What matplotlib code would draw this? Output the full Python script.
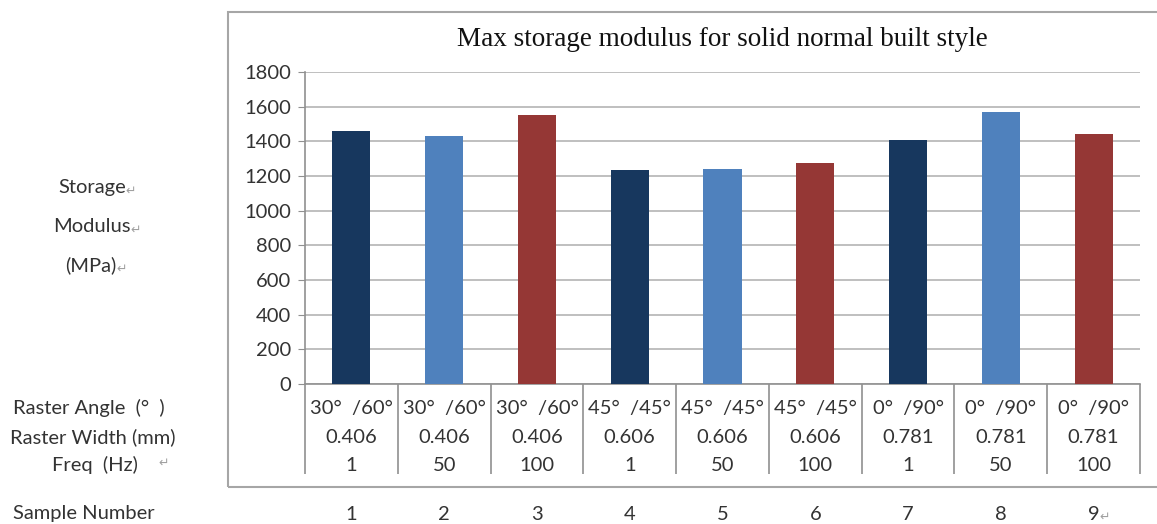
import matplotlib.pyplot as plt
import matplotlib.transforms as mtransforms
from matplotlib.patches import Rectangle

# Data
sample_numbers = ['1', '2', '3', '4', '5', '6', '7', '8', '9']
raster_angles = ['30°  /60°', '30°  /60°', '30°  /60°',
                 '45°  /45°', '45°  /45°', '45°  /45°',
                 '0°  /90°', '0°  /90°', '0°  /90°']
raster_widths = ['0.406', '0.406', '0.406', '0.606', '0.606', '0.606',
                 '0.781', '0.781', '0.781']
freqs = ['1', '50', '100', '1', '50', '100', '1', '50', '100']
storage_modulus = [1460, 1432, 1553, 1236, 1240, 1276, 1408, 1568, 1442]
bar_colors = ['#17375e', '#4f81bd', '#953735'] * 3

W, H = 1157, 524
TXT = '#333333'
PARA = '#a0a0a0'
FS = 14.5
sans = ['Lato', 'DejaVu Sans']

fig = plt.figure(figsize=(W / 100, H / 100), dpi=100)
ax = fig.add_axes([305 / W, 1 - 384 / H, 835 / W, 312 / H])

x = list(range(len(storage_modulus)))
ax.bar(x, storage_modulus, width=0.41, color=bar_colors, zorder=3)

ax.set_xlim(-0.5, len(x) - 0.5)
ax.set_ylim(0, 1800)
ax.set_yticks(range(0, 1801, 200))
ax.set_yticklabels([str(v) for v in range(0, 1801, 200)], fontsize=FS,
                   family=sans, color=TXT)
ax.tick_params(axis='y', length=5, color='#909090', pad=5)
ax.set_xticks([])
ax.grid(axis='y', color='#b4b4b4', linewidth=1.2, zorder=0)
for s in ['top', 'right']:
    ax.spines[s].set_visible(False)
for s in ['left', 'bottom']:
    ax.spines[s].set_color('#909090')
    ax.spines[s].set_linewidth(1.2)

# category divider lines through the table area
trans = mtransforms.blended_transform_factory(ax.transData, ax.transAxes)
ax.vlines([k - 0.5 for k in range(len(x) + 1)], -0.29, 0, transform=trans,
          color='#909090', linewidth=1.2, clip_on=False)

rows = [(raster_angles, -0.077), (raster_widths, -0.170), (freqs, -0.260)]
for labels, yy in rows:
    for i, lab in enumerate(labels):
        ax.text(i, yy, lab, transform=trans, ha='center', va='center',
                fontsize=FS, family=sans, color=TXT)

for i, lab in enumerate(sample_numbers):
    t = ax.text(i, -0.417, lab, transform=trans, ha='center', va='center',
                fontsize=FS, family=sans, color=TXT)
    if i == len(sample_numbers) - 1:
        ax.annotate('↵', xy=(1, 0.35), xycoords=t, va='center', fontsize=9,
                    color=PARA, family=sans)

fig.text(722 / W, 1 - 40 / H, 'Max storage modulus for solid normal built style',
         ha='center', va='center', family='Liberation Serif', fontsize=19.5,
         color='#111111')

# outer chart border
fig.add_artist(Rectangle((228 / W, 1 - 487 / H), 1000 / W, 475 / H,
                         transform=fig.transFigure, fill=False,
                         edgecolor='#a6a6a6', linewidth=1.5))


# left-side labels
def label(px, py, s, para=False):
    t = fig.text(px / W, 1 - py / H, s, ha='left', va='center', fontsize=FS,
                 family=sans, color=TXT)
    if para:
        ax.annotate('↵', xy=(1, 0.3), xycoords=t, va='center', fontsize=9,
                    color=PARA, family=sans, annotation_clip=False)
    return t


label(58, 187, 'Storage', para=True)
label(53, 226, 'Modulus', para=True)
label(65, 265, '(MPa)', para=True)
label(13, 408, 'Raster Angle  (°  )')
label(10, 437, 'Raster Width (mm)')
label(52, 465, 'Freq  (Hz)')
fig.text(158 / W, 1 - 463 / H, '↵', ha='left', va='center', fontsize=9,
         color=PARA, family=sans)
label(13, 514, 'Sample Number')

fig.savefig('out.png', dpi=100)
